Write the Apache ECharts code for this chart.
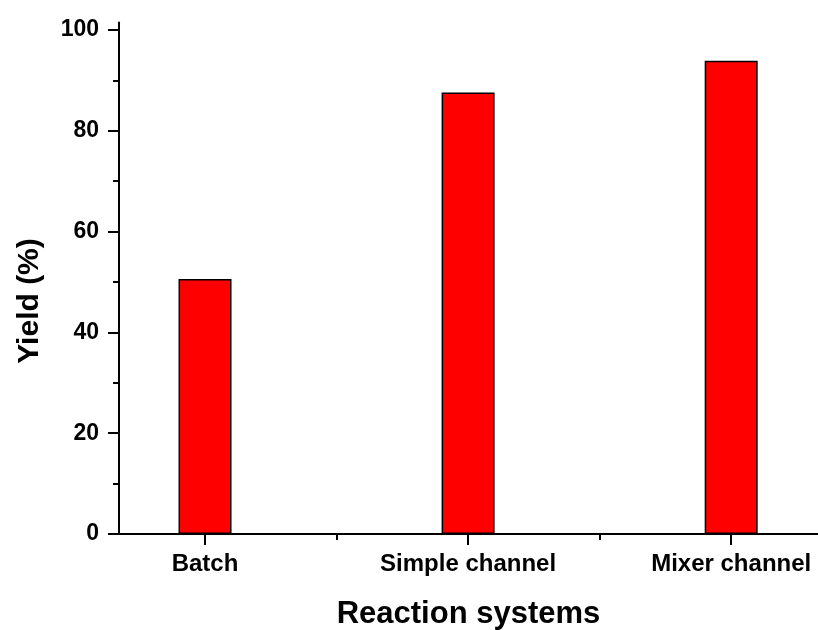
<!DOCTYPE html>
<html>
<head>
<meta charset="utf-8">
<script src="https://cdn.jsdelivr.net/npm/echarts@6/dist/echarts.min.js"></script>
<style>html,body{margin:0;padding:0;background:#fff}#c{width:818px;height:630px}</style>
</head>
<body>
<div id="c"></div>
<script>
const categories = ['Batch', 'Simple channel', 'Mixer channel'];
const positions = [1, 2, 3];
const yieldValues = [50.6, 87.6, 93.9];
const yMajorTicks = [0, 20, 40, 60, 80, 100];
const yMinorTicks = [10, 30, 50, 70, 90];
const xMinorTicks = [1.5, 2.5];

const FONT = '"Liberation Sans", Arial, sans-serif';
const chart = echarts.init(document.getElementById('c'), null, {renderer: 'canvas'});
const xMin = 0.673, xMax = 3.33, yMin = 0, yMax = 101.5;
const lineStyle = {color: '#000', width: 2};

chart.setOption({
  animation: false,
  backgroundColor: '#fff',
  grid: {left: 119, right: 0, top: 22.4, bottom: 96, containLabel: false, outerBoundsMode: 'none'},
  xAxis: [{
    type: 'value', min: xMin, max: xMax, position: 'bottom',
    splitLine: {show: false},
    axisLine: {show: true, onZero: false, lineStyle: lineStyle},
    axisTick: {show: true, inside: false, length: 11, lineStyle: lineStyle, customValues: positions},
    axisLabel: {show: true, margin: 18, customValues: positions,
      formatter: v => categories[positions.indexOf(Math.round(v))] || '',
      color: '#000', fontFamily: FONT, fontWeight: 'bold', fontSize: 24},
    name: 'Reaction systems', nameLocation: 'middle', nameGap: 65,
    nameTextStyle: {color: '#000', fontFamily: FONT, fontWeight: 'bold', fontSize: 31}
  }, {
    type: 'value', min: xMin, max: xMax, position: 'bottom',
    splitLine: {show: false},
    axisLine: {show: false, onZero: false},
    axisTick: {show: true, inside: false, length: 6, lineStyle: lineStyle, customValues: xMinorTicks},
    axisLabel: {show: false}
  }],
  yAxis: [{
    type: 'value', min: yMin, max: yMax, position: 'left',
    splitLine: {show: false},
    axisLine: {show: true, onZero: false, lineStyle: lineStyle},
    axisTick: {show: true, inside: false, length: 11, lineStyle: lineStyle, customValues: yMajorTicks},
    axisLabel: {show: true, margin: 20, customValues: yMajorTicks,
      color: '#000', fontFamily: FONT, fontWeight: 'bold', fontSize: 23}
  }, {
    type: 'value', min: yMin, max: yMax, position: 'left',
    splitLine: {show: false},
    axisLine: {show: false, onZero: false},
    axisTick: {show: true, inside: false, length: 6, lineStyle: lineStyle, customValues: yMinorTicks},
    axisLabel: {show: false}
  }],
  graphic: [{
    type: 'text', x: 30, y: 301, rotation: Math.PI / 2,
    style: {text: 'Yield (%)', align: 'center', verticalAlign: 'middle',
      fill: '#000', font: 'bold 30px ' + FONT}
  }],
  series: [{
    type: 'bar', xAxisIndex: 0, yAxisIndex: 0,
    barWidth: 53,
    data: positions.map((p, i) => [p, yieldValues[i]]),
    itemStyle: {color: '#ff0000', borderColor: '#000', borderWidth: 1.5}
  }]
});
</script>
</body>
</html>
